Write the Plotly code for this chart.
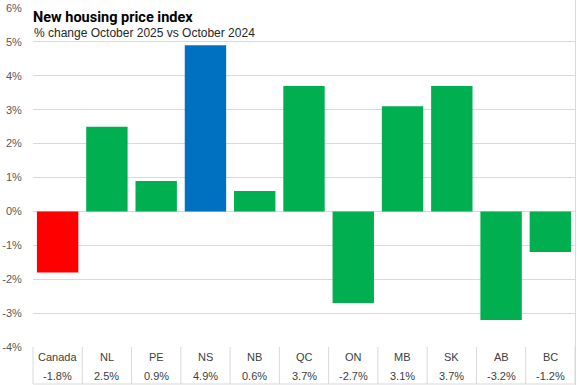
import plotly.graph_objects as go

categories = ["Canada", "NL", "PE", "NS", "NB", "QC", "ON", "MB", "SK", "AB", "BC"]
values = [-1.8, 2.5, 0.9, 4.9, 0.6, 3.7, -2.7, 3.1, 3.7, -3.2, -1.2]
value_labels = ["-1.8%", "2.5%", "0.9%", "4.9%", "0.6%", "3.7%", "-2.7%", "3.1%", "3.7%", "-3.2%", "-1.2%"]
bar_colors = ["#FF0000", "#00B050", "#00B050", "#0070C0", "#00B050", "#00B050",
              "#00B050", "#00B050", "#00B050", "#00B050", "#00B050"]
y_ticks = [6, 5, 4, 3, 2, 1, 0, -1, -2, -3, -4]
y_tick_labels = ["6%", "5%", "4%", "3%", "2%", "1%", "0%", "-1%", "-2%", "-3%", "-4%"]

title = "New housing price index"
subtitle = "% change October 2025 vs October 2024"

W, H = 577, 385
ML, MR, MT, MB = 33, 2, 8, 38
plot_h = H - MT - MB

fig = go.Figure(go.Bar(
    x=categories, y=values, marker=dict(color=bar_colors, line=dict(width=0)),
    hoverinfo="x+y",
))

grid = "#D9D9D9"
txt = "#404040"
FONT = "Liberation Sans, Arial, sans-serif"

def py(px):
    # pixel offset below plot bottom -> paper coordinate
    return -px / plot_h

shapes = []
n = len(categories)
for k in range(n + 1):
    shapes.append(dict(type="line", xref="paper", yref="paper",
                       x0=k / n, x1=k / n, y0=0, y1=py(37),
                       line=dict(color=grid, width=1)))
shapes.append(dict(type="line", xref="paper", yref="paper",
                   x0=0, x1=1, y0=py(37), y1=py(37), line=dict(color=grid, width=1)))
# chart border right
xr = (W - 1.5 - ML) / (W - ML - MR)
shapes.append(dict(type="line", xref="paper", yref="paper",
                   x0=xr, x1=xr, y0=py(MB), y1=1 + MT / plot_h, line=dict(color=grid, width=1)))

annotations = []
for c, v in zip(categories, value_labels):
    annotations.append(dict(x=c, xref="x", y=py(10), yref="paper", text=c,
                            showarrow=False, font=dict(size=11, color=txt, family=FONT),
                            xanchor="center", yanchor="middle"))
    annotations.append(dict(x=c, xref="x", y=py(29), yref="paper", text=v,
                            showarrow=False, font=dict(size=11, color=txt, family=FONT),
                            xanchor="center", yanchor="middle"))

annotations.append(dict(x=0, xref="paper", y=1 - 10 / plot_h, yref="paper",
                        text="<b>" + title + "</b>", showarrow=False,
                        xanchor="left", yanchor="middle", xshift=-2,
                        font=dict(size=14.5, color="#000000",
                                  family="Liberation Sans Narrow, Arial Narrow, Roboto, sans-serif")))
annotations.append(dict(x=0, xref="paper", y=1 - 25 / plot_h, yref="paper",
                        text=subtitle, showarrow=False,
                        xanchor="left", yanchor="middle", xshift=-1,
                        font=dict(size=12, color="#262626", family=FONT)))

fig.update_layout(
    width=W, height=H,
    margin=dict(l=ML, r=MR, t=MT, b=MB, pad=0, autoexpand=False),
    plot_bgcolor="white", paper_bgcolor="white",
    showlegend=False,
    bargap=0.16,
    shapes=shapes,
    annotations=annotations,
    xaxis=dict(showticklabels=False, showgrid=False, zeroline=False, ticks="",
               showline=False, range=[-0.5, n - 0.5], fixedrange=True, automargin=False),
    yaxis=dict(range=[-4, 6], tickvals=y_ticks, ticktext=y_tick_labels,
               showgrid=True, gridcolor=grid, gridwidth=1,
               zeroline=True, zerolinecolor=grid, zerolinewidth=1,
               showline=False, ticks="outside", ticklen=8, tickcolor="rgba(0,0,0,0)",
               tickfont=dict(size=11, color="#595959", family=FONT), fixedrange=True,
               automargin=False),
)

fig.write_html("out.html", config={"displayModeBar": False},
               post_script="document.body.style.margin='0';document.body.style.overflow='hidden';")
